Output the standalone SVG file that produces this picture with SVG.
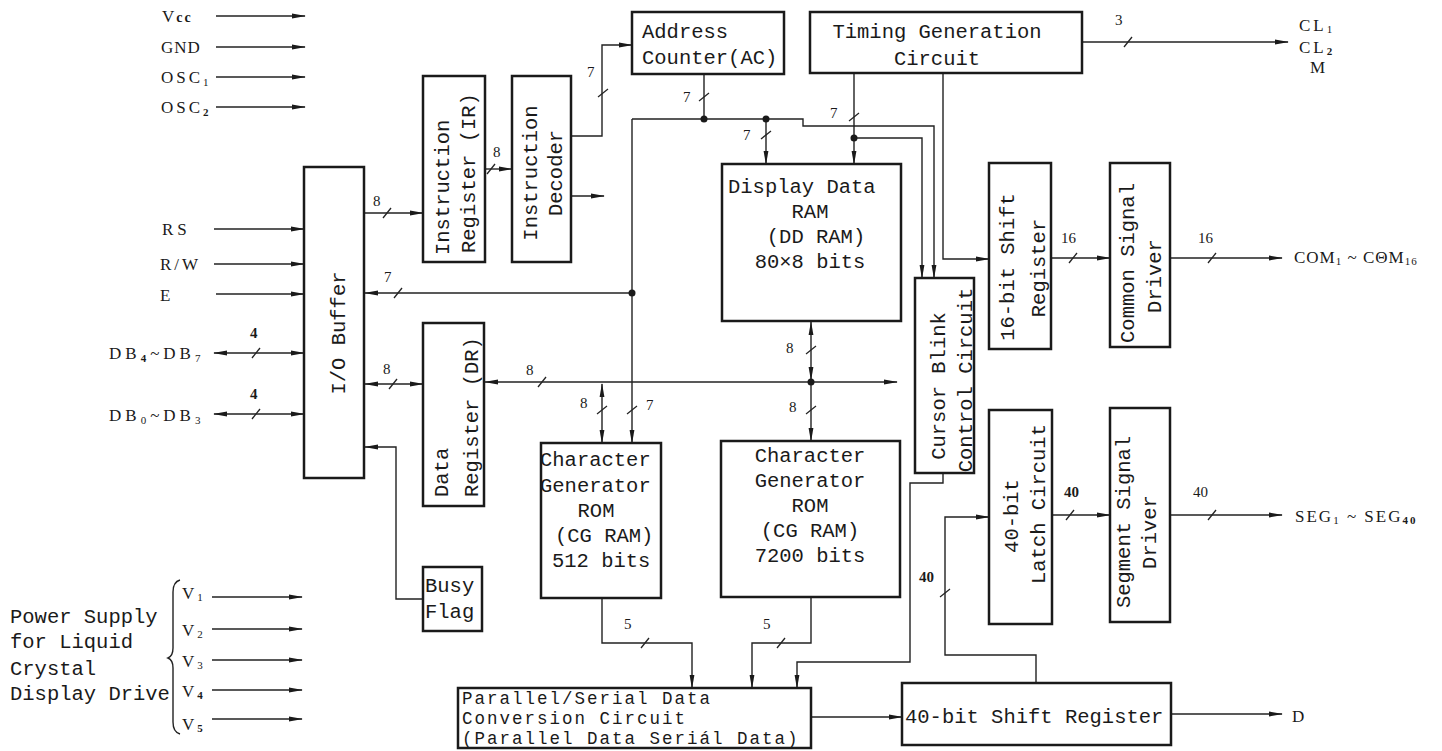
<svg xmlns="http://www.w3.org/2000/svg" width="1442" height="751" viewBox="0 0 1442 751">
<style>
.box{fill:none;stroke:#1a1a1a;stroke-width:2.5}
.w{fill:none;stroke:#222;stroke-width:1.4}
.k{fill:none;stroke:#222;stroke-width:1.3}
.t{font-family:"Liberation Mono","DejaVu Sans Mono",monospace;font-size:20.5px;fill:#1a1a1a}
.p{font-size:17.5px;letter-spacing:2px}
.s{font-family:"Liberation Serif","Times New Roman",serif;font-size:17px;fill:#1a1a1a}
.n{font-family:"Liberation Serif","Times New Roman",serif;font-size:15px;fill:#1a1a1a}
.b{font-weight:bold}
.sub{font-size:11px}
.m{text-anchor:middle}
.dot{fill:#1a1a1a}
</style>
<defs>
<marker id="a" viewBox="0 0 14 6" refX="13" refY="3" markerWidth="14" markerHeight="6" markerUnits="userSpaceOnUse" orient="auto-start-reverse">
<path d="M0,0.6 L14,3 L0,5.4 z" fill="#1a1a1a"/>
</marker>
</defs>
<rect width="1442" height="751" fill="#fff"/>

<g id="connectors">
<path class="w" d="M216,16 H305" marker-end="url(#a)"/>
<path class="w" d="M216,47 H305" marker-end="url(#a)"/>
<path class="w" d="M216,77 H305" marker-end="url(#a)"/>
<path class="w" d="M216,107 H305" marker-end="url(#a)"/>
<path class="w" d="M214,229 H304" marker-end="url(#a)"/>
<path class="w" d="M214,264 H304" marker-end="url(#a)"/>
<path class="w" d="M216,294 H304" marker-end="url(#a)"/>
<path class="w" d="M214,353 H304" marker-start="url(#a)" marker-end="url(#a)"/>
<path class="w" d="M214,414 H304" marker-start="url(#a)" marker-end="url(#a)"/>
<path class="w" d="M212,597 H302" marker-end="url(#a)"/>
<path class="w" d="M212,629 H302" marker-end="url(#a)"/>
<path class="w" d="M212,660 H302" marker-end="url(#a)"/>
<path class="w" d="M212,690 H302" marker-end="url(#a)"/>
<path class="w" d="M212,719 H302" marker-end="url(#a)"/>
<path class="w" d="M364,213 H423" marker-end="url(#a)"/>
<path class="w" d="M632,293 H365" marker-end="url(#a)"/>
<path class="w" d="M365,384 H423" marker-start="url(#a)" marker-end="url(#a)"/>
<path class="w" d="M423,599 H396 V447 H365" marker-end="url(#a)"/>
<path class="w" d="M485,169 H512" marker-end="url(#a)"/>
<path class="w" d="M571,196 H604" marker-end="url(#a)"/>
<path class="w" d="M571,136 H602 V45 H632" marker-end="url(#a)"/>
<path class="w" d="M704,74 V119"/>
<path class="w" d="M632,119 V443" marker-end="url(#a)"/>
<path class="w" d="M632,119 H803 V126 H934 V278" marker-end="url(#a)"/>
<path class="w" d="M766,119 V164" marker-end="url(#a)"/>
<path class="w" d="M854,73 V164" marker-end="url(#a)"/>
<path class="w" d="M854,138 H922 V278" marker-end="url(#a)"/>
<path class="w" d="M943,73 V259 H989" marker-end="url(#a)"/>
<path class="w" d="M1082,42 H1288" marker-end="url(#a)"/>
<path class="w" d="M811,322 V380" marker-start="url(#a)" marker-end="url(#a)"/>
<path class="w" d="M811,382 V441" marker-end="url(#a)"/>
<path class="w" d="M485,382 H897" marker-start="url(#a)" marker-end="url(#a)"/>
<path class="w" d="M602,384 V443" marker-start="url(#a)" marker-end="url(#a)"/>
<path class="w" d="M943,473 V483 H910 V662 H797 V688" marker-end="url(#a)"/>
<path class="w" d="M602,598 V643 H692 V688" marker-end="url(#a)"/>
<path class="w" d="M811,597 V643 H752 V688" marker-end="url(#a)"/>
<path class="w" d="M811,717 H902" marker-end="url(#a)"/>
<path class="w" d="M1036,683 V655 H945 V517 H989" marker-end="url(#a)"/>
<path class="w" d="M1052,515 H1110" marker-end="url(#a)"/>
<path class="w" d="M1170,515 H1282" marker-end="url(#a)"/>
<path class="w" d="M1051,258 H1110" marker-end="url(#a)"/>
<path class="w" d="M1170,258 H1282" marker-end="url(#a)"/>
<path class="w" d="M1171,714 H1282" marker-end="url(#a)"/>
<path class="w" d="M180,580 Q173,582 173,592 V648 Q173,656 168,658 Q173,660 173,668 V722 Q173,732 180,734"/>
<g class="k">
<path d="M252,358 L260,348"/>
<path d="M252,419 L260,409"/>
<path d="M383,218 L391,208"/>
<path d="M394,298 L402,288"/>
<path d="M389,389 L397,379"/>
<path d="M487,174 L495,164"/>
<path d="M598,97 L608,89"/>
<path d="M699,101 L709,93"/>
<path d="M761,139 L771,131"/>
<path d="M849,121 L859,113"/>
<path d="M1124,47 L1132,37"/>
<path d="M538,387 L546,377"/>
<path d="M806,354 L816,346"/>
<path d="M806,414 L816,406"/>
<path d="M597,414 L607,406"/>
<path d="M627,414 L637,406"/>
<path d="M641,648 L649,638"/>
<path d="M777,648 L785,638"/>
<path d="M940,597 L950,589"/>
<path d="M1066,520 L1074,510"/>
<path d="M1208,520 L1216,510"/>
<path d="M1069,263 L1077,253"/>
<path d="M1208,263 L1216,253"/>
</g>
<circle class="dot" cx="704" cy="119" r="3.5"/>
<circle class="dot" cx="766" cy="119" r="3.5"/>
<circle class="dot" cx="854" cy="138" r="3.5"/>
<circle class="dot" cx="632" cy="293" r="3.5"/>
<circle class="dot" cx="811" cy="382" r="3.5"/>
</g>

<g id="labels">
<text class="n b" x="250" y="338">4</text>
<text class="n b" x="250" y="399">4</text>
<text class="n" x="373" y="206">8</text>
<text class="n" x="384" y="282">7</text>
<text class="n" x="383" y="374">8</text>
<text class="n" x="493" y="157">8</text>
<text class="n" x="587" y="77">7</text>
<text class="n" x="683" y="102">7</text>
<text class="n" x="743" y="140">7</text>
<text class="n" x="830" y="118">7</text>
<text class="n" x="1115" y="25">3</text>
<text class="n" x="526" y="375">8</text>
<text class="n" x="786" y="353">8</text>
<text class="n" x="789" y="412">8</text>
<text class="n" x="580" y="408">8</text>
<text class="n" x="646" y="410">7</text>
<text class="n" x="624" y="629">5</text>
<text class="n" x="763" y="629">5</text>
<text class="n b" x="919" y="582">40</text>
<text class="n b" x="1064" y="497">40</text>
<text class="n" x="1193" y="497">40</text>
<text class="n" x="1061" y="243">16</text>
<text class="n" x="1198" y="243">16</text>
</g>

<g id="pins">
<text class="s" x="162" y="22" letter-spacing="2">V<tspan class="b" font-size="14">cc</tspan></text>
<text class="s" x="161" y="53" letter-spacing="1">GND</text>
<text class="s" x="161" y="83" letter-spacing="3">OSC<tspan class="sub" dy="3">1</tspan></text>
<text class="s" x="161" y="113" letter-spacing="3">OSC<tspan class="sub b" dy="3">2</tspan></text>
<text class="s" x="162" y="235" letter-spacing="4">RS</text>
<text class="s" x="160" y="270" letter-spacing="3">R/W</text>
<text class="s" x="160" y="301">E</text>
<text class="s" x="109" y="359" font-size="18" letter-spacing="4">DB<tspan class="sub b" dy="3">4</tspan><tspan dy="-3">~DB</tspan><tspan class="sub" dy="3">7</tspan></text>
<text class="s" x="109" y="421" font-size="18" letter-spacing="4">DB<tspan class="sub" dy="3">0</tspan><tspan dy="-3">~DB</tspan><tspan class="sub" dy="3">3</tspan></text>
<text class="s" x="1299" y="31" letter-spacing="3">CL<tspan class="sub" dy="2">1</tspan></text>
<text class="s" x="1299" y="53" letter-spacing="3">CL<tspan class="sub b" dy="2">2</tspan></text>
<text class="s" x="1310" y="73">M</text>
<text class="s" x="1294" y="263" letter-spacing="1">COM<tspan class="sub" dy="2">1</tspan><tspan dy="-2"> ~ CΘM</tspan><tspan class="sub" dy="2">16</tspan></text>
<text class="s" x="1295" y="522" letter-spacing="2">SEG<tspan class="sub" dy="2">1</tspan><tspan dy="-2"> ~ SEG</tspan><tspan class="sub b" dy="2">40</tspan></text>
<text class="s" x="1292" y="722">D</text>
<text class="s" x="182" y="599" letter-spacing="3">V<tspan class="sub" dy="2">1</tspan></text>
<text class="s" x="182" y="636" letter-spacing="3">V<tspan class="sub" dy="2">2</tspan></text>
<text class="s" x="182" y="667" letter-spacing="3">V<tspan class="sub" dy="2">3</tspan></text>
<text class="s" x="182" y="697" letter-spacing="3">V<tspan class="sub b" dy="2">4</tspan></text>
<text class="s" x="182" y="730" letter-spacing="3">V<tspan class="sub b" dy="2">5</tspan></text>
<text class="t" x="10" y="623">Power Supply</text>
<text class="t" x="10" y="648">for Liquid</text>
<text class="t" x="10" y="675">Crystal</text>
<text class="t" x="10" y="700">Display Drive</text>
</g>

<g id="io-buffer">
<rect class="box" x="304" y="167" width="60" height="311"/>
<text class="t m" transform="translate(345,333) rotate(-90)">I/O Buffer</text>
</g>
<g id="instruction-register">
<rect class="box" x="423" y="76" width="62" height="186"/>
<text class="t" transform="translate(449,255) rotate(-90)">Instruction</text>
<text class="t" transform="translate(475,253) rotate(-90)">Register (IR)</text>
</g>
<g id="instruction-decoder">
<rect class="box" x="512" y="76" width="59" height="186"/>
<text class="t m" transform="translate(537,173) rotate(-90)">Instruction</text>
<text class="t m" transform="translate(562,173) rotate(-90)">Decoder</text>
</g>
<g id="data-register">
<rect class="box" x="423" y="323" width="61" height="183"/>
<text class="t" transform="translate(448,497) rotate(-90)">Data</text>
<text class="t" transform="translate(478,497) rotate(-90)">Register (DR)</text>
</g>
<g id="busy-flag">
<rect class="box" x="423" y="567" width="59" height="64"/>
<text class="t" x="425" y="592">Busy</text>
<text class="t" x="425" y="618">Flag</text>
</g>
<g id="address-counter">
<rect class="box" x="632" y="12" width="152" height="62"/>
<text class="t" x="642" y="38">Address</text>
<text class="t" x="642" y="64">Counter(AC)</text>
</g>
<g id="timing-generation">
<rect class="box" x="810" y="12" width="272" height="61"/>
<text class="t m" x="937" y="38">Timing Generation</text>
<text class="t m" x="937" y="65">Circuit</text>
</g>
<g id="dd-ram">
<rect class="box" x="722" y="164" width="179" height="157"/>
<text class="t" x="728" y="193">Display Data</text>
<text class="t m" x="810" y="218">RAM</text>
<text class="t m" x="816" y="243">(DD RAM)</text>
<text class="t m" x="810" y="268">80×8 bits</text>
</g>
<g id="cursor-blink">
<rect class="box" x="915" y="278" width="59" height="195"/>
<text class="t m" transform="translate(945,386) rotate(-90)">Cursor Blink</text>
<text class="t m" transform="translate(972,380) rotate(-90)">Control Circuit</text>
</g>
<g id="shift-register-16">
<rect class="box" x="989" y="163" width="62" height="186"/>
<text class="t m" transform="translate(1014,267) rotate(-90)">16-bit Shift</text>
<text class="t m" transform="translate(1045,268) rotate(-90)">Register</text>
</g>
<g id="common-driver">
<rect class="box" x="1110" y="163" width="60" height="184"/>
<text class="t m" transform="translate(1134,263) rotate(-90)">Common Signal</text>
<text class="t m" transform="translate(1161,276) rotate(-90)">Driver</text>
</g>
<g id="cg-rom-512">
<rect class="box" x="541" y="443" width="120" height="155"/>
<text class="t" x="540" y="466">Character</text>
<text class="t" x="540" y="492">Generator</text>
<text class="t m" x="596" y="517">ROM</text>
<text class="t" x="555" y="542">(CG RAM)</text>
<text class="t" x="552" y="567">512 bits</text>
</g>
<g id="cg-rom-7200">
<rect class="box" x="721" y="441" width="179" height="156"/>
<text class="t m" x="810" y="462">Character</text>
<text class="t m" x="810" y="487">Generator</text>
<text class="t m" x="810" y="512">ROM</text>
<text class="t m" x="810" y="537">(CG RAM)</text>
<text class="t m" x="810" y="562">7200 bits</text>
</g>
<g id="latch-40">
<rect class="box" x="989" y="410" width="63" height="214"/>
<text class="t m" transform="translate(1018,516) rotate(-90)">40-bit</text>
<text class="t m" transform="translate(1045,504) rotate(-90)">Latch Circuit</text>
</g>
<g id="segment-driver">
<rect class="box" x="1110" y="408" width="60" height="214"/>
<text class="t m" transform="translate(1130,522) rotate(-90)">Segment Signal</text>
<text class="t m" transform="translate(1156,532) rotate(-90)">Driver</text>
</g>
<g id="ps-conversion">
<rect class="box" x="458" y="688" width="353" height="60"/>
<text class="t p" x="462" y="704">Parallel/Serial Data</text>
<text class="t p" x="462" y="724">Conversion Circuit</text>
<text class="t p" x="462" y="744">(Parallel Data Seriál Data)</text>
</g>
<g id="shift-register-40">
<rect class="box" x="902" y="683" width="269" height="62"/>
<text class="t" x="905" y="723">40-bit Shift Register</text>
</g>
</svg>
